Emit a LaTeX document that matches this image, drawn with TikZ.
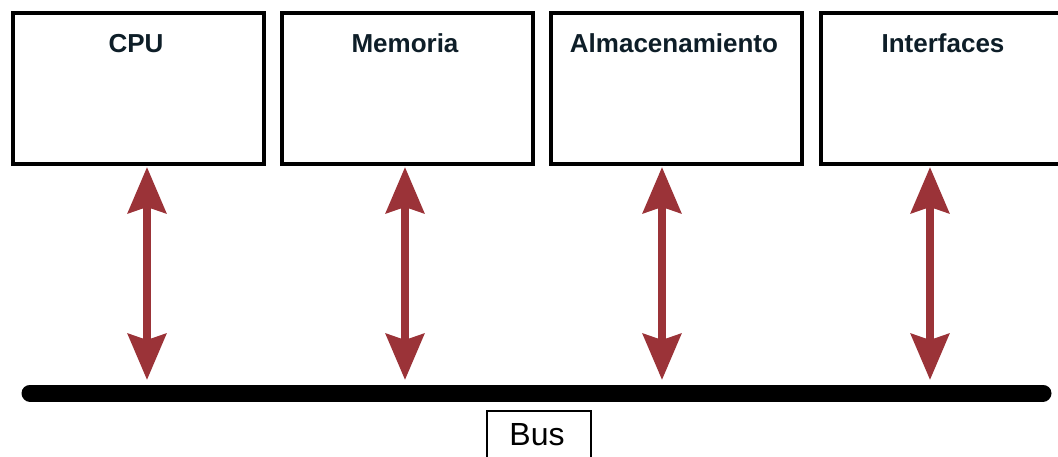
\documentclass[tikz,border=0pt]{standalone}
\usepackage{fontspec}
\setmainfont{Liberation Sans}
\usetikzlibrary{arrows.meta}
\definecolor{arrowred}{HTML}{9B3338}
\definecolor{lbl}{HTML}{0E1E28}
\begin{document}
\begin{tikzpicture}[x=1pt,y=-1pt,
  unitbox/.style={draw=black,line width=4pt,fill=white,minimum width=251pt,minimum height=151pt,anchor=north west,inner sep=0pt},
  unitlabel/.style={anchor=base,text=lbl,font=\fontsize{26}{30}\selectfont\bfseries,inner sep=0pt},
  headtip/.tip={Stealth[length=46pt 0,width=38pt 0,inset=6pt]},
  busarrow/.style={draw=arrowred,fill=arrowred,line width=8pt,headtip-headtip},
  busline/.style={line width=17pt,line cap=round,draw=black}]
\useasboundingbox (0,0) rectangle (1058,457);
\clip (0,0) rectangle (1058,457);
% boxes
\node[unitbox] (cpu) at (11,11) {};
\node[unitbox] (mem) at (280,11) {};
\node[unitbox] (alm) at (549,11) {};
\node[unitbox] (int) at (819,11) {};
\node[unitlabel] (cpuL) at (136,53) {CPU};
\node[unitlabel] (memL) at (405,53) {Memoria};
\node[unitlabel] (almL) at (674,53) {Almacenamiento};
\node[unitlabel] (intL) at (943,53) {Interfaces};
% bus
\coordinate (busL) at (30,393);
\coordinate (busR) at (1043,393);
\draw[busline] (busL) -- (busR);
% arrow ends
\coordinate (a1t) at (147,167); \coordinate (a1b) at (147,380);
\coordinate (a2t) at (405,167); \coordinate (a2b) at (405,380);
\coordinate (a3t) at (662,167); \coordinate (a3b) at (662,380);
\coordinate (a4t) at (930,167); \coordinate (a4b) at (930,380);
\draw[busarrow] (a1t) -- (a1b);
\draw[busarrow] (a2t) -- (a2b);
\draw[busarrow] (a3t) -- (a3b);
\draw[busarrow] (a4t) -- (a4b);
% bus label
\node[draw=black,line width=1.5pt,fill=white,anchor=north west,minimum width=104pt,minimum height=70pt,inner sep=0pt] (busbox) at (486,410) {};
\node[anchor=base,font=\fontsize{32}{36}\selectfont,inner sep=0pt] (busT) at (537,445) {Bus};
\end{tikzpicture}
\end{document}
